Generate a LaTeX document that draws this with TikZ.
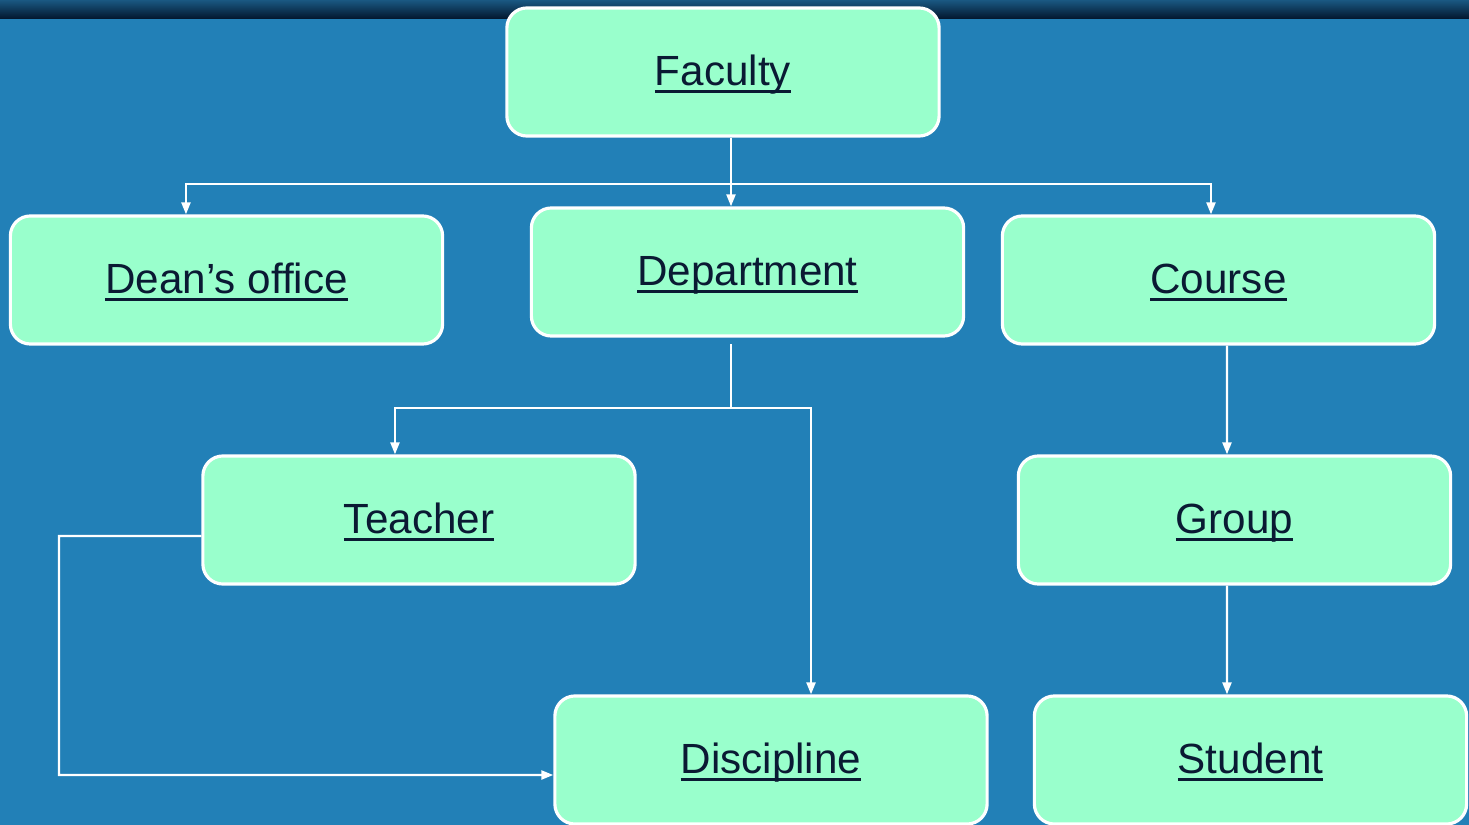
\documentclass[tikz,border=0pt]{standalone}
\usepackage{fontspec}
\setmainfont{Liberation Sans}
\usetikzlibrary{arrows.meta}

\definecolor{bgblue}{RGB}{34,128,183}
\definecolor{bartop}{RGB}{26,88,130}
\definecolor{barbot}{RGB}{2,22,45}
\definecolor{boxfill}{RGB}{153,255,204}
\definecolor{inktxt}{RGB}{10,26,51}

\newcommand{\ulin}[1]{\setbox0\hbox{#1}\rlap{\rule[-0.17em]{\wd0}{0.07em}}\box0}

\tikzset{
	unitbox/.style={draw=white, line width=0.9pt, fill=boxfill, rounded corners=0.2cm,
		minimum width=4.32cm, minimum height=1.28cm, inner sep=0pt,
		text=inktxt, font=\fontsize{12pt}{14pt}\selectfont,
		text height=0.9em, text depth=0.11em},
	link/.style={draw=white, line width=0.65pt},
	arr/.style={link, -{Triangle[length=1.2mm, width=0.9mm]}}
}

\begin{document}
\begin{tikzpicture}[x=0.01cm, y=-0.01cm]
	\useasboundingbox (0,0) rectangle (1469,825);
	\fill[bgblue] (0,0) rectangle (1469,825);
	\shade[top color=bartop, bottom color=barbot] (0,0) rectangle (1469,19);

	\node[unitbox] (fac) at (723,72) {\ulin{Faculty}};
	\node[unitbox] (dean) at (226.5,280) {\ulin{Dean’s office}};
	\node[unitbox] (dep) at (747.5,272) {\ulin{Department}};
	\node[unitbox] (crs) at (1218.5,280) {\ulin{Course}};
	\node[unitbox] (tea) at (419,520) {\ulin{Teacher}};
	\node[unitbox] (grp) at (1234.5,520) {\ulin{Group}};
	\node[unitbox] (dis) at (771,760) {\ulin{Discipline}};
	\node[unitbox] (stu) at (1250.5,760) {\ulin{Student}};

	% faculty branches
	\coordinate (fj) at (731,184);
	\draw[link] (fj |- fac.south) -- (fj);
	\draw[arr] (fj) -| ([xshift=-0.405cm]dean.north);
	\draw[arr] (fj) -- (fj |- dep.north);
	\draw[arr] (fj) -| ([xshift=-0.075cm]crs.north);

	% department branches
	\coordinate (dj) at (731,408);
	\draw[link, shorten >=0.06cm] (dj) -- (dj |- dep.south);
	\draw[arr] (dj) -| ([xshift=-0.24cm]tea.north);
	\draw[arr] (dj) -| ([xshift=0.4cm]dis.north);

	% course chain
	\draw[arr] ([xshift=0.085cm]crs.south) -- ([xshift=-0.075cm]grp.north);
	\draw[arr] ([xshift=-0.075cm]grp.south) -- ([xshift=-0.235cm]stu.north);

	% teacher to discipline
	\coordinate (tc) at (59,536);
	\draw[arr] ([yshift=-0.16cm]tea.west) -- (tc) |- ([yshift=-0.15cm]dis.west);
\end{tikzpicture}
\end{document}
